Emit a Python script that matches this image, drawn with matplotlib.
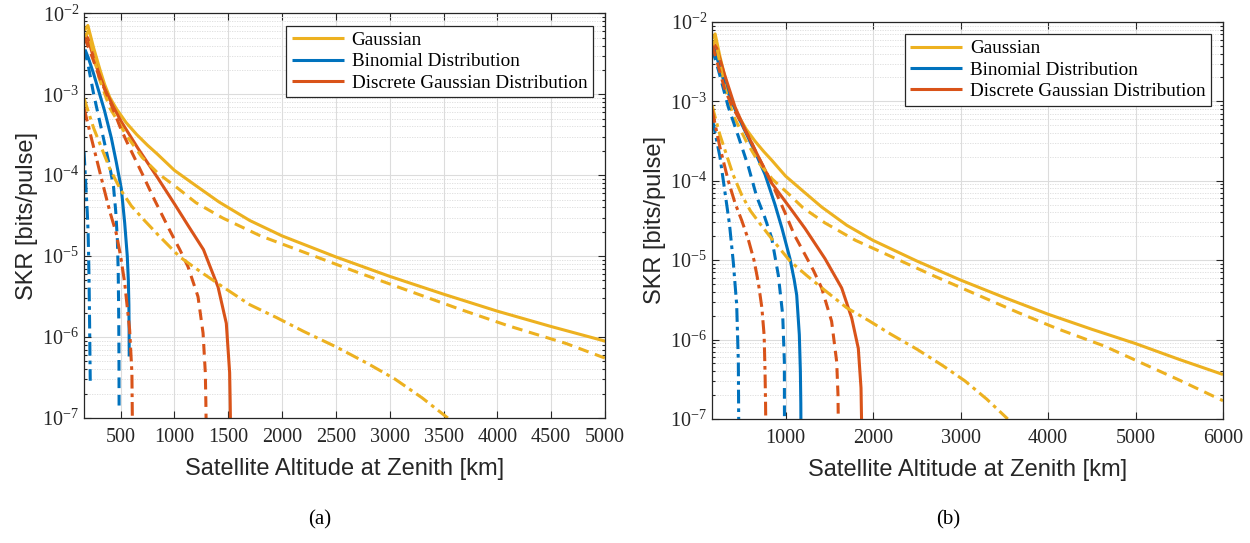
import numpy as np
import matplotlib
matplotlib.use("Agg")
import matplotlib.pyplot as plt
from matplotlib.ticker import LogLocator, NullFormatter, FixedLocator

plt.rcParams['font.family'] = ['Liberation Serif', 'DejaVu Serif']
plt.rcParams['mathtext.fontset'] = 'stix'
plt.rcParams['mathtext.default'] = 'regular'

C_GAUSS = '#EDB120'
C_BIN = '#0072BD'
C_DG = '#D95319'

# --- values: altitude [km] and log10(SKR) ---
# Gaussian curves (same in both panels)
gauss_solid_x = [165, 196, 250, 309, 352, 400, 461, 551, 651, 750, 842, 1000, 1200, 1413, 1700,
                 2000, 2500, 3000, 3500, 4000, 4500, 5000, 5500, 6000]
gauss_solid_lg = [-2.21, -2.15, -2.43, -2.70, -2.88, -3.04, -3.18, -3.35, -3.50, -3.63, -3.74, -3.94,
                  -4.13, -4.33, -4.56, -4.75, -5.01, -5.25, -5.47, -5.68, -5.87, -6.05, -6.25, -6.44]
gauss_dash_x = [165, 200, 250, 300, 400, 550, 700, 850, 1030, 1200, 1450, 1800, 2200, 2700, 3200,
                3660, 4100, 4640, 5000, 5500, 6000]
gauss_dash_lg = [-2.30, -2.22, -2.52, -2.80, -3.17, -3.50, -3.78, -3.98, -4.16, -4.34, -4.53, -4.75,
                 -4.95, -5.20, -5.44, -5.66, -5.86, -6.08, -6.26, -6.51, -6.77]
gauss_dd_x = [160, 250, 310, 400, 500, 600, 722, 850, 1050, 1250, 1450, 1700, 1950, 2200, 2500,
              2800, 3050, 3300, 3540]
gauss_dd_lg = [-3.05, -3.42, -3.62, -3.92, -4.18, -4.38, -4.56, -4.74, -5.01, -5.20, -5.38, -5.60,
               -5.76, -5.93, -6.12, -6.33, -6.52, -6.75, -7.00]

# panel (a)
bin_a_solid_x = [170, 200, 250, 290, 350, 414, 460, 507, 538, 562, 572, 577, 579, 580]
bin_a_solid_lg = [-2.45, -2.55, -2.75, -2.93, -3.20, -3.54, -3.84, -4.17, -4.59, -5.00, -5.30, -5.60,
                  -5.90, -6.24]
bin_a_dash_x = [165, 200, 250, 300, 350, 400, 434, 455, 470, 478, 483, 485, 486]
bin_a_dash_lg = [-2.45, -2.65, -3.00, -3.30, -3.60, -3.90, -4.14, -4.45, -4.80, -5.20, -5.80, -6.30, -6.87]
bin_a_dd_x = [160, 170, 180, 190, 198, 203, 208, 212, 215, 218]
bin_a_dd_lg = [-3.71, -3.95, -4.20, -4.45, -4.70, -5.00, -5.40, -5.83, -6.20, -6.54]

dg_a_solid_x = [165, 197, 260, 352, 430, 507, 662, 848, 1003, 1126, 1270, 1405, 1482, 1513, 1518, 1520]
dg_a_solid_lg = [-2.25, -2.31, -2.60, -2.93, -3.15, -3.34, -3.67, -4.04, -4.36, -4.62, -4.92, -5.38,
                 -5.83, -6.44, -6.80, -7.00]
dg_a_dash_x = [165, 228, 300, 414, 500, 569, 700, 817, 956, 1050, 1126, 1219, 1266, 1287, 1292, 1294]
dg_a_dash_lg = [-2.30, -2.51, -2.78, -3.13, -3.42, -3.62, -3.98, -4.31, -4.68, -4.92, -5.13, -5.50,
                -5.95, -6.44, -6.80, -7.00]
dg_a_dd_x = [160, 228, 290, 350, 400, 460, 500, 538, 584, 605, 609]
dg_a_dd_lg = [-3.17, -3.54, -3.87, -4.19, -4.45, -4.72, -5.00, -5.33, -5.91, -6.44, -7.00]

# panel (b)
bin_b_solid_x = [170, 200, 250, 300, 385, 480, 575, 670, 766, 880, 960, 1051, 1100, 1128, 1158,
                 1170, 1175, 1176]
bin_b_solid_lg = [-2.30, -2.38, -2.58, -2.76, -3.00, -3.24, -3.46, -3.68, -3.92, -4.30, -4.60, -4.98,
                  -5.25, -5.44, -5.94, -6.40, -6.80, -7.00]
bin_b_dash_x = [165, 232, 346, 461, 575, 671, 760, 842, 918, 968, 987, 988]
bin_b_dash_lg = [-2.35, -2.60, -3.07, -3.44, -3.82, -4.20, -4.45, -4.72, -5.19, -5.69, -6.28, -7.00]
bin_b_dd_x = [160, 175, 251, 309, 360, 403, 442, 461, 465]
bin_b_dd_lg = [-3.23, -3.28, -3.70, -4.15, -4.55, -5.02, -5.56, -6.28, -7.00]

dg_b_solid_x = [165, 214, 300, 423, 540, 651, 842, 957, 1071, 1223, 1451, 1642, 1757, 1832, 1863, 1869]
dg_b_solid_lg = [-2.25, -2.33, -2.65, -3.07, -3.36, -3.61, -4.03, -4.20, -4.37, -4.60, -4.98, -5.35,
                 -5.73, -6.11, -6.61, -7.00]
dg_b_dash_x = [165, 230, 309, 400, 499, 600, 689, 790, 880, 994, 1100, 1223, 1320, 1413, 1527,
               1585, 1600, 1603]
dg_b_dash_lg = [-2.30, -2.55, -2.86, -3.08, -3.28, -3.49, -3.70, -3.91, -4.12, -4.40, -4.68, -4.93,
                -5.13, -5.35, -5.77, -6.28, -6.70, -7.00]
dg_b_dd_x = [160, 251, 346, 423, 500, 575, 640, 689, 730, 756, 766, 772, 774]
dg_b_dd_lg = [-3.10, -3.58, -4.00, -4.28, -4.50, -4.74, -5.00, -5.28, -5.60, -5.95, -6.40, -6.80, -7.00]

legend_labels = ['Gaussian', 'Binomial Distribution', 'Discrete Gaussian Distribution']
xticks_a = [500, 1000, 1500, 2000, 2500, 3000, 3500, 4000, 4500, 5000]
xticks_b = [1000, 2000, 3000, 4000, 5000, 6000]

LS = {'solid': '-', 'dash': (0, (3.5, 2.2)), 'dd': (0, (4.5, 1.6, 1.2, 1.6))}
LW = 2.2

fig = plt.figure(figsize=(12.5, 5.43), dpi=100)
ax_a = fig.add_axes([0.0672, 0.2302, 0.4168, 0.7453])
ax_b = fig.add_axes([0.5696, 0.2284, 0.4088, 0.7311])


def draw(ax, curves, xmax, xticks):
    handles = []
    for (x, lg, color, style) in curves:
        h, = ax.plot(x, 10.0 ** np.array(lg), color=color, linestyle=LS[style], lw=LW,
                     solid_capstyle='butt', dash_capstyle='butt')
        if style == 'solid':
            handles.append(h)
    ax.set_yscale('log')
    ax.set_xlim(160, xmax)
    ax.set_ylim(1e-7, 1e-2)
    ax.xaxis.set_major_locator(FixedLocator(xticks))
    ax.yaxis.set_major_locator(LogLocator(base=10, numticks=10))
    ax.yaxis.set_minor_locator(LogLocator(base=10, subs=np.arange(2, 10), numticks=100))
    ax.yaxis.set_minor_formatter(NullFormatter())
    ax.grid(True, which='major', color='#dcdcdc', lw=0.8)
    ax.grid(True, which='minor', axis='y', color='#dcdcdc', lw=0.6, linestyle=(0, (1.5, 1.5)))
    ax.set_axisbelow(True)
    ax.tick_params(which='both', direction='in', top=True, right=True, colors='#262626',
                   labelcolor='#262626', labelsize=14.5, width=0.8)
    ax.tick_params(which='major', length=5)
    ax.tick_params(axis='x', which='major', pad=7)
    ax.tick_params(which='minor', length=2.5)
    for s in ax.spines.values():
        s.set_color('#262626')
        s.set_linewidth(0.9)
    ax.set_xlabel('Satellite Altitude at Zenith [km]', fontfamily='Liberation Sans', fontsize=17,
                  color='#262626', labelpad=8)
    ax.set_ylabel('SKR [bits/pulse]', fontfamily='Liberation Sans', fontsize=17, color='#262626',
                  labelpad=3)
    leg = ax.legend(handles, legend_labels, loc='upper right', bbox_to_anchor=(0.977, 0.969),
                    borderaxespad=0, fontsize=13.8, fancybox=False, framealpha=1,
                    edgecolor='#262626', handlelength=2.7, handletextpad=0.4,
                    labelspacing=0.2, borderpad=0.3)
    leg.get_frame().set_linewidth(0.9)


curves_a = [
    (gauss_solid_x, gauss_solid_lg, C_GAUSS, 'solid'),
    (bin_a_solid_x, bin_a_solid_lg, C_BIN, 'solid'),
    (dg_a_solid_x, dg_a_solid_lg, C_DG, 'solid'),
    (gauss_dash_x, gauss_dash_lg, C_GAUSS, 'dash'),
    (bin_a_dash_x, bin_a_dash_lg, C_BIN, 'dash'),
    (dg_a_dash_x, dg_a_dash_lg, C_DG, 'dash'),
    (gauss_dd_x, gauss_dd_lg, C_GAUSS, 'dd'),
    (bin_a_dd_x, bin_a_dd_lg, C_BIN, 'dd'),
    (dg_a_dd_x, dg_a_dd_lg, C_DG, 'dd'),
]
curves_b = [
    (gauss_solid_x, gauss_solid_lg, C_GAUSS, 'solid'),
    (bin_b_solid_x, bin_b_solid_lg, C_BIN, 'solid'),
    (dg_b_solid_x, dg_b_solid_lg, C_DG, 'solid'),
    (gauss_dash_x, gauss_dash_lg, C_GAUSS, 'dash'),
    (bin_b_dash_x, bin_b_dash_lg, C_BIN, 'dash'),
    (dg_b_dash_x, dg_b_dash_lg, C_DG, 'dash'),
    (gauss_dd_x, gauss_dd_lg, C_GAUSS, 'dd'),
    (bin_b_dd_x, bin_b_dd_lg, C_BIN, 'dd'),
    (dg_b_dd_x, dg_b_dd_lg, C_DG, 'dd'),
]

draw(ax_a, curves_a, 5000, xticks_a)
draw(ax_b, curves_b, 6000, xticks_b)

fig.text(0.256, 0.0424, '(a)', ha='center', va='center', fontsize=15)
fig.text(0.7584, 0.0424, '(b)', ha='center', va='center', fontsize=15)

fig.savefig('out.png', dpi=100)
